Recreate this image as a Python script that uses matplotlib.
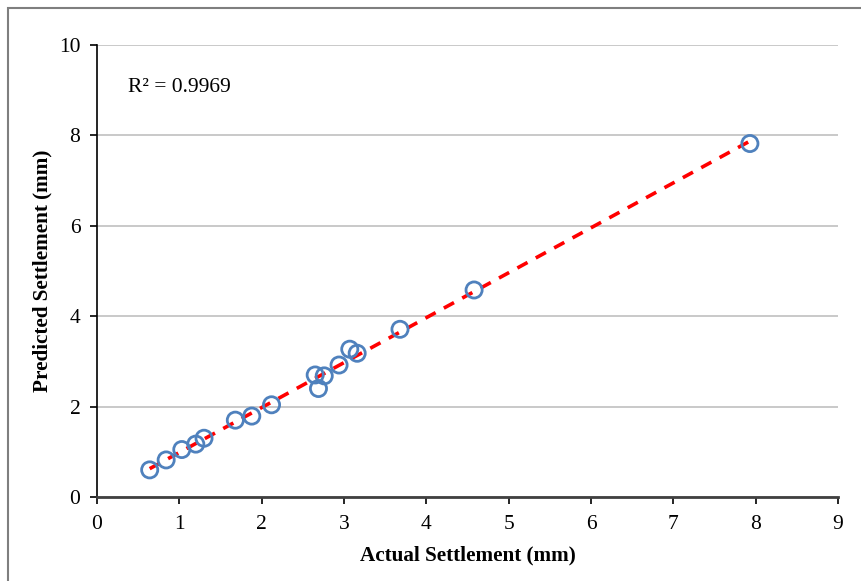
import matplotlib
matplotlib.use("Agg")
import matplotlib.pyplot as plt
import numpy as np
from matplotlib.patches import Rectangle

actual = [0.64, 0.84, 1.03, 1.20, 1.30, 1.68, 1.88, 2.12, 2.65, 2.76, 2.69,
          2.94, 3.07, 3.16, 3.68, 4.58, 7.93]
predicted = [0.60, 0.82, 1.05, 1.17, 1.30, 1.70, 1.79, 2.04, 2.70, 2.68, 2.40,
             2.92, 3.27, 3.18, 3.71, 4.58, 7.82]
r2_text = "R² = 0.9969"
xticks = list(range(0, 10))
yticks = [0, 2, 4, 6, 8, 10]

plt.rcParams['font.family'] = ['Liberation Serif', 'DejaVu Serif']

fig = plt.figure(figsize=(8.61, 5.81), dpi=100)
ax = fig.add_axes([97/861, 1-497/581, (838-97)/861, (497-45)/581])

x = np.array(actual)
y = np.array(predicted)
m, b = np.polyfit(x, y, 1)
xs = np.array([x.min(), x.max()])
ax.plot(xs, m*xs + b, color='#FF0000', lw=2.6, ls=(0, (3.2, 2.6)), zorder=2)
ax.scatter(x, y, s=135, facecolors='none', edgecolors='#4F81BD', linewidths=2.0, zorder=3)

ax.set_xlim(0, 9)
ax.set_ylim(0, 10)
ax.set_xticks(xticks)
ax.set_yticks(yticks)
ax.yaxis.grid(True, color='#C0C0C0', lw=1.2)
ax.set_axisbelow(True)
for s in ['top', 'right']:
    ax.spines[s].set_visible(False)
ax.spines['left'].set_color('black')
ax.spines['left'].set_linewidth(1.2)
ax.spines['bottom'].set_color('#404040')
ax.spines['bottom'].set_linewidth(2.0)
ax.tick_params(axis='both', direction='out', length=5, width=1.2, labelsize=15.5, colors='black')
ax.tick_params(axis='x', pad=8)
ax.tick_params(axis='y', pad=7)

ax.set_xlabel('Actual Settlement (mm)', fontsize=15.2, fontweight='bold', labelpad=8)
ax.set_ylabel('Predicted Settlement (mm)', fontsize=15.2, fontweight='bold', labelpad=4.5)

fig.text(128/861, 1-88/581, r2_text, fontsize=15.5, ha='left', va='center')

fig.patches.append(Rectangle((8/861, -0.1), 1.2, 1-8/581+0.1, transform=fig.transFigure,
                             fill=False, edgecolor='#7F7F7F', lw=1.5))

fig.savefig('out.png', dpi=100)
